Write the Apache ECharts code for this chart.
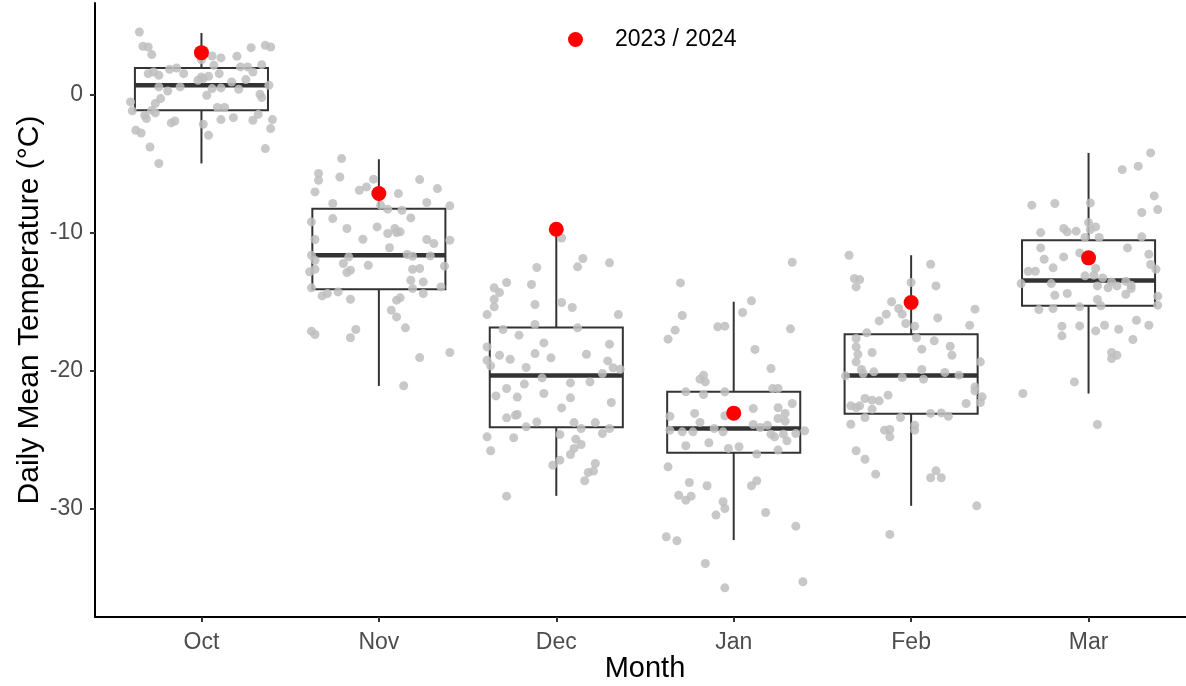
<!DOCTYPE html>
<html>
<head>
<meta charset="utf-8">
<script src="https://cdn.jsdelivr.net/npm/echarts@6/dist/echarts.min.js"></script>
<style>
  html, body { margin: 0; padding: 0; background: #fff; }
  #chart { width: 1186px; height: 686px; }
</style>
</head>
<body>
<div id="chart"></div>
<script>
// months on the x axis (positions 1..6)
const MONTHS = ["Oct", "Nov", "Dec", "Jan", "Feb", "Mar"];
const Y_TICKS = [-30, -20, -10, 0];

// box stats per month: [lower whisker, Q1, median, Q3, upper whisker]
const BOX_STATS = [
  [-5.0, -1.16, 0.65, 1.90, 4.43],
  [-21.09, -14.1, -11.64, -8.27, -4.70],
  [-29.04, -24.07, -20.34, -16.87, -10.1],
  [-32.24, -25.93, -24.17, -21.52, -15.0],
  [-29.76, -23.11, -20.34, -17.35, -11.64],
  [-21.64, -15.30, -13.47, -10.55, -4.24]
];

// the 2023 / 2024 season
const SEASON_2324 = [3.01, -7.18, -9.76, -23.06, -15.06, -11.83];

// daily values, each as [jitter offset, °C]
const octPts = [
  [-0.35,4.5],[-0.33,3.47],[-0.30,3.42],[-0.28,2.87],[0.06,2.77],[0.0,2.5],[0.11,2.63],[0.20,2.75],
  [0.28,3.37],[0.36,3.54],[0.39,3.42],[0.34,2.14],[0.26,1.98],[0.22,1.98],[0.07,2.10],[0.10,1.49],
  [-0.18,1.81],[-0.14,1.90],[-0.10,1.49],[-0.30,1.49],[-0.27,1.61],[-0.24,1.37],[0.0,1.25],[0.01,1.13],
  [0.04,1.30],[-0.02,1.01],[0.29,1.61],[0.25,1.06],[0.17,0.89],[-0.24,0.53],[-0.19,0.24],[-0.12,0.53],
  [0.06,0.41],[0.11,0.46],[0.21,0.36],[0.38,0.65],[0.33,0.0],[0.34,-0.24],[0.03,-0.07],[-0.40,-0.55],
  [-0.23,-0.31],[-0.26,-0.67],[-0.39,-1.20],[-0.28,-1.16],[-0.32,-1.52],[-0.31,-1.76],[-0.26,-1.35],[0.09,-0.96],
  [0.13,-0.96],[0.11,-1.83],[0.18,-1.69],[0.29,-1.88],[0.32,-1.45],[0.40,-1.83],[0.39,-2.48],[-0.17,-2.07],
  [-0.15,-1.93],[0.01,-2.17],[-0.37,-2.60],[-0.34,-2.80],[0.04,-2.96],[-0.29,-3.81],[0.36,-3.93],[-0.24,-5.01]
];
const novPts = [
  [-0.21,-4.65],[-0.34,-5.73],[-0.34,-6.22],[-0.22,-5.98],[-0.03,-6.14],[-0.07,-6.70],[-0.11,-6.94],[-0.36,-7.06],
  [0.23,-6.17],[0.33,-6.82],[0.11,-7.18],[0.27,-7.83],[0.40,-8.07],[-0.26,-7.90],[0.01,-8.02],[0.05,-8.31],
  [0.13,-8.39],[-0.26,-8.99],[-0.38,-9.23],[0.18,-8.94],[-0.18,-9.71],[-0.01,-9.59],[0.05,-10.07],[0.09,-9.71],
  [0.10,-10.0],[0.12,-9.95],[-0.36,-10.5],[-0.09,-10.48],[0.27,-10.5],[0.31,-10.8],[0.40,-10.55],[0.06,-11.1],
  [-0.38,-11.64],[-0.36,-12.0],[-0.17,-11.76],[0.16,-11.59],[0.19,-11.71],[0.29,-11.69],[-0.20,-12.24],[-0.06,-12.36],
  [-0.39,-12.84],[-0.36,-12.65],[-0.18,-12.89],[-0.16,-12.72],[0.19,-12.65],[0.23,-12.60],[0.37,-12.43],[0.18,-13.45],
  [0.25,-13.57],[-0.38,-14.0],[-0.32,-14.58],[-0.29,-14.41],[-0.23,-14.29],[-0.16,-14.82],[0.19,-14.05],[0.25,-14.41],
  [0.35,-13.93],[0.10,-14.89],[0.12,-14.72],[0.07,-15.61],[0.10,-16.1],[0.15,-16.89],[-0.38,-17.13],[-0.36,-17.37],
  [-0.13,-17.01],[-0.16,-17.61],[0.23,-19.04],[0.40,-18.67],[0.14,-21.08]
];
const decPts = [
  [0.03,-10.39],[0.15,-11.88],[0.12,-12.48],[0.30,-12.19],[-0.11,-12.53],[-0.28,-13.61],[-0.35,-14.0],[-0.32,-14.34],
  [-0.14,-13.76],[-0.35,-14.82],[-0.35,-15.37],[-0.39,-15.93],[-0.12,-15.2],[0.03,-15.06],[0.09,-15.42],[0.35,-15.93],
  [-0.12,-16.65],[0.12,-16.89],[-0.30,-17.01],[-0.21,-17.42],[-0.07,-17.98],[0.30,-18.07],[-0.39,-18.27],[-0.32,-18.87],
  [-0.26,-19.16],[-0.12,-18.75],[-0.03,-19.06],[0.17,-18.80],[-0.39,-19.23],[-0.37,-19.64],[-0.17,-19.76],[0.29,-19.28],
  [0.32,-19.78],[0.36,-19.88],[0.26,-20.19],[-0.08,-20.51],[-0.18,-20.96],[0.08,-20.87],[0.19,-20.80],[-0.28,-21.28],
  [-0.34,-21.81],[-0.22,-21.9],[-0.07,-21.64],[0.08,-21.95],[0.31,-22.29],[0.03,-22.68],[-0.28,-23.4],[-0.23,-23.21],
  [-0.22,-23.16],[-0.11,-23.69],[-0.17,-24.05],[0.10,-23.74],[0.14,-24.17],[0.22,-23.74],[0.30,-24.17],[0.26,-24.53],
  [-0.39,-24.77],[-0.24,-24.84],[0.02,-24.60],[-0.37,-25.78],[0.11,-24.94],[0.14,-25.33],[0.10,-25.61],[0.08,-26.05],
  [0.02,-26.46],[-0.02,-26.82],[0.22,-26.7],[0.21,-27.25],[0.18,-27.35],[0.16,-27.95],[-0.28,-29.06]
];
const janPts = [
  [0.33,-12.15],[-0.30,-13.64],[0.10,-14.94],[0.05,-15.78],[-0.29,-16.0],[-0.09,-16.82],[-0.05,-16.77],[0.32,-16.96],
  [-0.33,-17.06],[-0.37,-17.71],[0.12,-18.46],[0.21,-19.83],[-0.19,-20.6],[-0.17,-20.31],[-0.16,-20.8],[-0.27,-21.52],
  [-0.17,-21.71],[-0.05,-21.52],[0.22,-21.28],[0.25,-21.28],[0.33,-22.36],[0.11,-22.72],[0.25,-22.67],[-0.22,-23.08],
  [-0.05,-23.25],[-0.36,-23.28],[-0.19,-23.73],[0.25,-23.45],[0.29,-23.08],[0.29,-23.64],[0.11,-23.88],[0.15,-24.1],
  [0.19,-23.93],[-0.36,-24.29],[-0.29,-24.41],[-0.23,-24.41],[-0.11,-24.17],[-0.06,-24.41],[0.21,-24.58],[0.23,-24.77],
  [0.28,-24.58],[0.35,-24.53],[0.40,-24.34],[0.30,-25.06],[-0.27,-25.42],[-0.14,-25.2],[-0.03,-25.61],[0.03,-25.49],
  [0.13,-26.02],[0.25,-25.73],[-0.37,-26.94],[-0.25,-28.07],[-0.15,-28.31],[0.10,-28.31],[0.13,-27.95],[-0.31,-29.0],
  [-0.27,-29.35],[-0.24,-29.06],[-0.06,-29.47],[-0.05,-29.95],[-0.10,-30.43],[0.18,-30.24],[0.35,-31.23],[-0.38,-32.0],
  [-0.32,-32.29],[-0.16,-33.93],[-0.05,-35.69],[0.39,-35.25]
];
const febPts = [
  [-0.35,-11.64],[0.11,-12.29],[-0.32,-13.33],[-0.29,-13.40],[-0.31,-13.93],[0.0,-13.61],[0.14,-13.86],[-0.11,-15.0],
  [-0.07,-15.49],[-0.05,-15.9],[-0.14,-15.9],[-0.18,-16.39],[-0.03,-16.58],[0.02,-16.77],[0.15,-16.17],[0.36,-15.54],
  [0.33,-16.7],[-0.25,-17.25],[-0.31,-17.66],[-0.31,-18.27],[-0.30,-18.8],[0.03,-17.61],[0.13,-17.83],[0.22,-18.22],
  [0.23,-18.87],[0.06,-18.43],[-0.22,-18.67],[-0.31,-19.35],[0.39,-19.35],[-0.28,-19.9],[-0.27,-20.19],[-0.21,-20.07],
  [0.06,-19.9],[0.19,-20.12],[-0.37,-20.36],[-0.05,-20.48],[0.07,-20.6],[0.27,-20.31],[0.36,-21.16],[0.36,-21.45],
  [0.40,-21.88],[0.39,-22.29],[0.31,-22.36],[-0.13,-21.76],[-0.26,-22.0],[-0.22,-22.12],[-0.18,-22.17],[-0.34,-22.53],
  [-0.31,-22.65],[-0.29,-22.53],[-0.22,-22.77],[-0.26,-23.37],[-0.06,-23.37],[0.11,-23.08],[0.17,-23.04],[0.21,-23.28],
  [-0.34,-23.86],[-0.15,-24.29],[-0.12,-24.24],[-0.12,-24.77],[0.02,-23.93],[0.02,-24.29],[-0.31,-25.78],[-0.26,-26.39],
  [-0.20,-27.47],[0.14,-27.23],[0.11,-27.73],[0.17,-27.73],[0.37,-29.76],[-0.12,-31.83]
];
const marPts = [
  [0.35,-4.24],[0.19,-5.45],[0.28,-5.2],[0.37,-7.35],[0.39,-8.34],[0.30,-8.55],[-0.32,-8.02],[-0.19,-7.90],
  [0.01,-7.86],[0.0,-9.28],[0.04,-9.59],[0.01,-9.78],[-0.14,-9.71],[-0.12,-9.95],[-0.07,-9.90],[-0.27,-10.0],
  [-0.02,-10.36],[0.06,-10.36],[0.30,-10.31],[-0.27,-11.11],[0.22,-11.11],[-0.25,-11.93],[-0.14,-11.76],[-0.05,-11.47],
  [0.34,-11.57],[0.35,-12.31],[0.38,-12.65],[-0.20,-12.55],[-0.34,-12.80],[-0.30,-12.80],[0.04,-12.60],[-0.02,-13.13],
  [0.03,-13.08],[0.08,-13.28],[0.13,-13.57],[0.21,-13.52],[0.24,-13.81],[-0.38,-13.69],[-0.21,-13.69],[0.05,-13.86],
  [0.11,-14.0],[0.16,-13.86],[0.24,-14.05],[-0.19,-14.53],[-0.12,-14.41],[0.21,-14.46],[0.05,-14.84],[0.07,-15.3],
  [0.39,-14.6],[0.39,-15.25],[-0.28,-15.57],[-0.20,-15.49],[-0.05,-15.37],[0.27,-16.34],[0.34,-16.7],[-0.15,-16.77],
  [-0.05,-16.75],[0.09,-16.70],[0.17,-16.99],[0.04,-17.11],[-0.15,-17.47],[0.25,-17.73],[0.13,-18.67],[0.16,-18.87],
  [0.13,-19.11],[-0.08,-20.8],[-0.37,-21.64],[0.05,-23.88]
];
const DAILY = [octPts, novPts, decPts, janPts, febPts, marPts];

const chart = echarts.init(document.getElementById("chart"), null, { renderer: "canvas" });

// box data on the numeric month axis: [pos, lo, q1, med, q3, hi]
const boxData = BOX_STATS.map((s, i) => [i + 1].concat(s));
const jitterData = [];
DAILY.forEach((pts, i) => pts.forEach(p => jitterData.push([i + 1 + p[0], p[1]])));
const seasonData = SEASON_2324.map((v, i) => [i + 1, v]);

const INK = "#333333";
const FONT = "Liberation Sans, Arial, sans-serif";

function renderBox(params, api) {
  const x = api.value(0);
  const half = api.size([0.75, 0])[0] / 2;
  const lo = api.coord([x, api.value(1)]);
  const q1 = api.coord([x, api.value(2)]);
  const md = api.coord([x, api.value(3)]);
  const q3 = api.coord([x, api.value(4)]);
  const hi = api.coord([x, api.value(5)]);
  const line = { stroke: INK, lineWidth: 2 };
  return {
    type: "group",
    children: [
      { type: "line", shape: { x1: lo[0], y1: lo[1], x2: q1[0], y2: q1[1] }, style: line },
      { type: "line", shape: { x1: q3[0], y1: q3[1], x2: hi[0], y2: hi[1] }, style: line },
      { type: "rect", shape: { x: q3[0] - half, y: q3[1], width: half * 2, height: q1[1] - q3[1] },
        style: { fill: "#fff", stroke: INK, lineWidth: 2 } },
      { type: "line", shape: { x1: md[0] - half, y1: md[1], x2: md[0] + half, y2: md[1] },
        style: { stroke: INK, lineWidth: 4.5 } }
    ]
  };
}

const option = {
  animation: false,
  backgroundColor: "#fff",
  textStyle: { fontFamily: FONT },
  legend: {
    data: [{ name: "2023 / 2024", icon: "circle" }],
    left: 563,
    top: 23,
    itemWidth: 15,
    itemHeight: 15,
    textStyle: { fontSize: 23, color: "#000", fontFamily: FONT, padding: [0, 0, 0, 27] }
  },
  grid: { left: 95, top: 3, bottom: 69, width: 1100, containLabel: false, outerBoundsMode: "none" },
  xAxis: {
    type: "value",
    min: 0.4,
    max: 6.6,
    name: "Month",
    nameLocation: "middle",
    nameGap: 37,
    nameMoveOverlap: false,
    nameTextStyle: { fontSize: 29, color: "#000", fontFamily: FONT },
    axisLine: { onZero: false, lineStyle: { color: "#000", width: 2 } },
    axisTick: { show: true, length: 5, customValues: [1, 2, 3, 4, 5, 6], lineStyle: { color: INK, width: 2 } },
    axisLabel: {
      customValues: [1, 2, 3, 4, 5, 6],
      formatter: v => MONTHS[Math.round(v) - 1] || "",
      fontSize: 23, color: "#4D4D4D", margin: 14, fontFamily: FONT
    },
    splitLine: { show: false }
  },
  yAxis: {
    type: "value",
    min: -37.8,
    max: 6.6,
    name: "Daily Mean Temperature (°C)",
    nameLocation: "middle",
    nameGap: 50,
    nameMoveOverlap: false,
    nameRotate: 90,
    nameTextStyle: { fontSize: 30, color: "#000", fontFamily: FONT },
    axisLine: { show: true, onZero: false, lineStyle: { color: "#000", width: 2 } },
    axisTick: { show: true, length: 5, customValues: Y_TICKS, lineStyle: { color: INK, width: 2 } },
    axisLabel: { customValues: Y_TICKS, fontSize: 23, color: "#4D4D4D", margin: 12, fontFamily: FONT },
    splitLine: { show: false }
  },
  series: [
    {
      name: "box",
      type: "custom",
      renderItem: renderBox,
      data: boxData,
      encode: { x: 0, y: [1, 2, 3, 4, 5] },
      z: 1,
      silent: true
    },
    {
      name: "daily",
      type: "scatter",
      data: jitterData,
      symbolSize: 9,
      itemStyle: { color: "rgb(190,190,190)", opacity: 0.85 },
      z: 2,
      silent: true
    },
    {
      name: "2023 / 2024",
      type: "scatter",
      data: seasonData,
      symbolSize: 15,
      itemStyle: { color: "#FF0000", opacity: 1 },
      z: 3
    }
  ]
};

chart.setOption(option);
</script>
</body>
</html>
